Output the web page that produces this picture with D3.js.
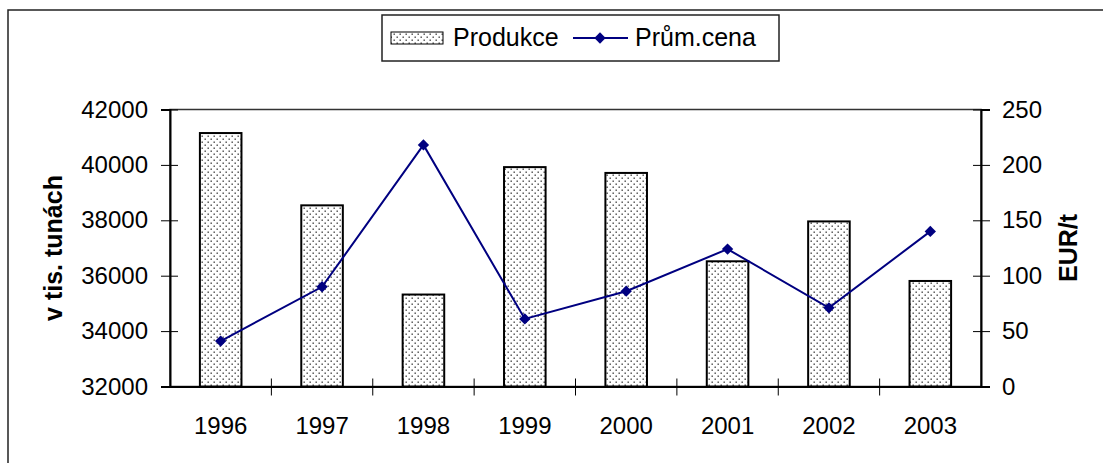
<!DOCTYPE html>
<html><head><meta charset="utf-8">
<script src="https://cdn.jsdelivr.net/npm/d3@7"></script>
<style>
body{margin:0;background:#fff}
svg{display:block;font-family:"Liberation Sans",Arial,sans-serif}
</style></head><body>
<svg id="c" width="1103" height="463"></svg>
<script>
const years = ["1996","1997","1998","1999","2000","2001","2002","2003"];
const production = [41150, 38540, 35320, 39920, 39710, 36520, 37960, 35810];
const price = [41, 90, 218, 61, 86, 124, 71, 140];
const leftTicks = [32000, 34000, 36000, 38000, 40000, 42000];
const rightTicks = [0, 50, 100, 150, 200, 250];
const seriesNames = ["Produkce", "Prům.cena"];
const axisTitles = ["v tis. tunách", "EUR/t"];

const svg = d3.select("#c");
const m = {left:170, right:981, top:109.5, bottom:386.5};
const x = d3.scaleBand().domain(years).range([m.left, m.right]);
const yL = d3.scaleLinear().domain([32000, 42000]).range([m.bottom, m.top]);
const yR = d3.scaleLinear().domain([0, 250]).range([m.bottom, m.top]);

const defs = svg.append("defs");
const pat = defs.append("pattern").attr("id","dots").attr("patternUnits","userSpaceOnUse")
  .attr("width",6).attr("height",6);
pat.append("rect").attr("width",6).attr("height",6).attr("fill","#fff");
pat.append("rect").attr("x",0.5).attr("y",0.5).attr("width",1.4).attr("height",1.4).attr("fill","#444");
pat.append("rect").attr("x",3.5).attr("y",3.5).attr("width",1.4).attr("height",1.4).attr("fill","#444");

// outer chart border
svg.append("rect").attr("x",8).attr("y",10).attr("width",1300).attr("height",700)
  .attr("fill","none").attr("stroke","#222").attr("stroke-width",1.5);

// plot area border
svg.append("rect").attr("x",m.left).attr("y",m.top).attr("width",m.right-m.left).attr("height",m.bottom-m.top)
  .attr("fill","none").attr("stroke","#333").attr("stroke-width",1.5);

// bars
const bw = x.bandwidth()*0.41;
svg.append("g").selectAll("rect").data(production).join("rect")
  .attr("x",(d,i)=>x(years[i])+(x.bandwidth()-bw)/2)
  .attr("y",d=>yL(d))
  .attr("width",bw)
  .attr("height",d=>yL(32000)-yL(d))
  .attr("fill","url(#dots)").attr("stroke","#000").attr("stroke-width",2);

// left axis
const gl = svg.append("g").attr("transform",`translate(${m.left},0)`)
  .call(d3.axisLeft(yL).tickValues(leftTicks).tickFormat(d3.format("d")).tickSize(9).tickPadding(13));
gl.select(".domain").attr("stroke","#000").attr("stroke-width",2);
gl.selectAll(".tick line").attr("x1",8).attr("stroke","#000").attr("stroke-width",1);
gl.selectAll(".tick text").attr("font-size",24).attr("font-family","Liberation Sans, Arial, sans-serif").attr("fill","#000");

// right axis
const gr = svg.append("g").attr("transform",`translate(${m.right},0)`)
  .call(d3.axisRight(yR).tickValues(rightTicks).tickSize(9).tickPadding(12));
gr.select(".domain").attr("stroke","#000").attr("stroke-width",2);
gr.selectAll(".tick line").attr("x1",-8).attr("stroke","#000").attr("stroke-width",1);
gr.selectAll(".tick text").attr("font-size",24).attr("font-family","Liberation Sans, Arial, sans-serif").attr("fill","#000");

// bottom axis
const gb = svg.append("g").attr("transform",`translate(0,${m.bottom})`)
  .call(d3.axisBottom(x).tickSize(0).tickPadding(30));
gb.select(".domain").attr("stroke","#000").attr("stroke-width",2);
gb.selectAll(".tick text").attr("font-size",24).attr("font-family","Liberation Sans, Arial, sans-serif").attr("fill","#000");
// category separator ticks
svg.append("g").selectAll("line").data(years.slice(1)).join("line")
  .attr("x1",d=>x(d)).attr("x2",d=>x(d))
  .attr("y1",m.bottom-8).attr("y2",m.bottom+9)
  .attr("stroke","#000").attr("stroke-width",1);

// price line
const line = d3.line().x((d,i)=>x(years[i])+x.bandwidth()/2).y(d=>yR(d));
svg.append("path").datum(price).attr("d",line).attr("fill","none")
  .attr("stroke","#000080").attr("stroke-width",2);
const diamond = d3.symbol().type(d3.symbolDiamond2 || d3.symbolSquare2).size(70);
svg.append("g").selectAll("path").data(price).join("path")
  .attr("transform",(d,i)=>`translate(${x(years[i])+x.bandwidth()/2},${yR(d)}) rotate(45)`)
  .attr("d",d3.symbol().type(d3.symbolSquare).size(64))
  .attr("fill","#000080");

// axis titles
svg.append("text").attr("transform",`translate(62,${(m.top+m.bottom)/2}) rotate(-90)`)
  .attr("text-anchor","middle").attr("font-size",25).attr("font-weight","bold").text(axisTitles[0]);
svg.append("text").attr("transform",`translate(1077,${(m.top+m.bottom)/2}) rotate(-90)`)
  .attr("text-anchor","middle").attr("font-size",25).attr("font-weight","bold").text(axisTitles[1]);

// legend
const lg = svg.append("g");
lg.append("rect").attr("x",382).attr("y",15).attr("width",397).attr("height",46)
  .attr("fill","#fff").attr("stroke","#222").attr("stroke-width",1.5);
lg.append("rect").attr("x",391).attr("y",32).attr("width",52).attr("height",12)
  .attr("fill","url(#dots)").attr("stroke","#000").attr("stroke-width",1);
lg.append("text").attr("x",453).attr("y",45.5).attr("font-size",25).text(seriesNames[0]);
lg.append("line").attr("x1",573).attr("x2",628).attr("y1",38).attr("y2",38)
  .attr("stroke","#000080").attr("stroke-width",2);
lg.append("path").attr("transform","translate(600,38) rotate(45)")
  .attr("d",d3.symbol().type(d3.symbolSquare).size(64)).attr("fill","#000080");
lg.append("text").attr("x",635).attr("y",45.5).attr("font-size",25).text(seriesNames[1]);
</script>
</body></html>
